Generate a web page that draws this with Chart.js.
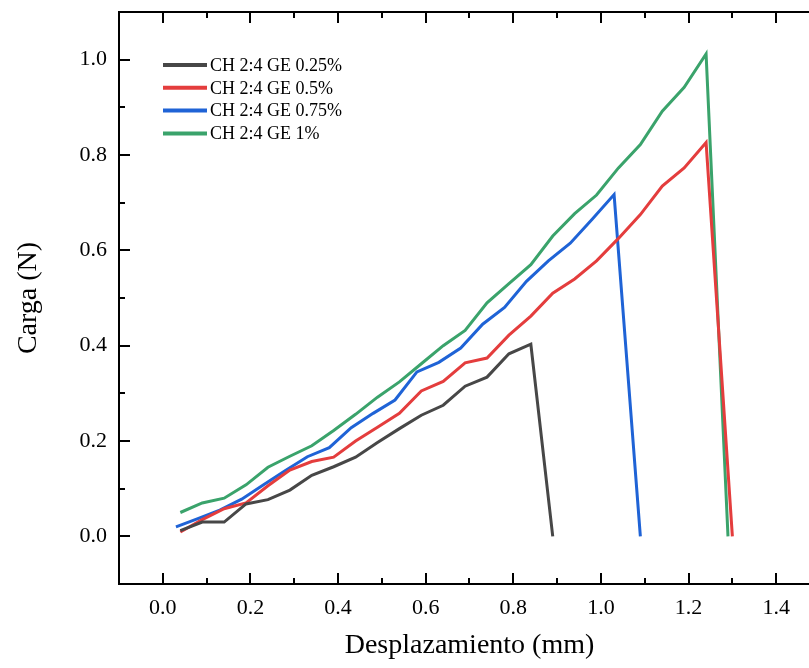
<!DOCTYPE html>
<html>
<head>
<meta charset="utf-8">
<script src="https://cdn.jsdelivr.net/npm/chart.js@4.4.1/dist/chart.umd.min.js"></script>
<style>
  html, body { margin: 0; padding: 0; background: #ffffff; overflow: hidden; }
  #wrap { position: absolute; left: 0; top: 0; width: 835px; height: 668px; }
</style>
</head>
<body>
<div id="wrap"><canvas id="c" width="835" height="668"></canvas></div>
<script>
// ---- data ----
const seriesNames = ["CH 2:4 GE 0.25%", "CH 2:4 GE 0.5%", "CH 2:4 GE 0.75%", "CH 2:4 GE 1%"];

const x025 = [0.04, 0.09, 0.14, 0.19, 0.24, 0.29, 0.34, 0.39, 0.44, 0.49, 0.54, 0.59, 0.64, 0.69, 0.74, 0.79, 0.84, 0.89];
const y025 = [0.012, 0.030, 0.030, 0.068, 0.077, 0.097, 0.128, 0.146, 0.166, 0.197, 0.226, 0.254, 0.275, 0.315, 0.334, 0.383, 0.403, 0.0];

const x05 = [0.04, 0.09, 0.14, 0.19, 0.24, 0.29, 0.34, 0.39, 0.44, 0.49, 0.54, 0.59, 0.64, 0.69, 0.74, 0.79, 0.84, 0.89, 0.94, 0.99, 1.04, 1.09, 1.14, 1.19, 1.24, 1.30];
const y05 = [0.009, 0.035, 0.058, 0.070, 0.106, 0.139, 0.157, 0.166, 0.200, 0.229, 0.258, 0.305, 0.325, 0.364, 0.374, 0.422, 0.462, 0.510, 0.540, 0.578, 0.625, 0.675, 0.735, 0.773, 0.826, 0.0];

const x075 = [0.03, 0.08, 0.13, 0.18, 0.23, 0.28, 0.33, 0.38, 0.43, 0.48, 0.53, 0.58, 0.63, 0.68, 0.73, 0.78, 0.83, 0.88, 0.93, 0.98, 1.03, 1.09];
const y075 = [0.020, 0.037, 0.055, 0.078, 0.108, 0.138, 0.167, 0.186, 0.228, 0.258, 0.286, 0.345, 0.365, 0.395, 0.445, 0.480, 0.535, 0.578, 0.615, 0.665, 0.717, 0.0];

const x1 = [0.04, 0.09, 0.14, 0.19, 0.24, 0.29, 0.34, 0.39, 0.44, 0.49, 0.54, 0.59, 0.64, 0.69, 0.74, 0.79, 0.84, 0.89, 0.94, 0.99, 1.04, 1.09, 1.14, 1.19, 1.24, 1.29];
const y1 = [0.050, 0.070, 0.080, 0.108, 0.145, 0.168, 0.190, 0.222, 0.256, 0.292, 0.324, 0.362, 0.400, 0.432, 0.490, 0.530, 0.570, 0.630, 0.677, 0.716, 0.773, 0.822, 0.892, 0.942, 1.012, 0.0];

const xTicks = [0.0, 0.2, 0.4, 0.6, 0.8, 1.0, 1.2, 1.4];
const yTicks = [0.0, 0.2, 0.4, 0.6, 0.8, 1.0];
const xMinorTicks = [-0.1, 0.1, 0.3, 0.5, 0.7, 0.9, 1.1, 1.3];
const yMinorTicks = [0.1, 0.3, 0.5, 0.7, 0.9];
const xTitle = "Desplazamiento (mm)";
const yTitle = "Carga (N)";

// ---- styling ----
const colors = ["#474747", "#e43d3d", "#1f63d6", "#3aa36b"];
const FONT = "'Liberation Serif', 'Times New Roman', serif";

function pts(xs, ys) { return xs.map((v, i) => ({ x: v, y: ys[i] })); }
const seriesData = [pts(x025, y025), pts(x05, y05), pts(x075, y075), pts(x1, y1)];

const framePlugin = {
  id: 'frame',
  afterDatasetsDraw(chart) {
    const ctx = chart.ctx;
    const a = chart.chartArea;
    const xs = chart.scales.x, ys = chart.scales.y;
    ctx.save();
    ctx.strokeStyle = '#000';
    ctx.lineWidth = 2;
    ctx.strokeRect(a.left, a.top, a.right - a.left, a.bottom - a.top);
    const MAJ = 11, MIN = 6;
    ctx.beginPath();
    xTicks.forEach(v => {
      const p = Math.round(xs.getPixelForValue(v));
      ctx.moveTo(p, a.bottom); ctx.lineTo(p, a.bottom - MAJ);
      ctx.moveTo(p, a.top); ctx.lineTo(p, a.top + MAJ);
    });
    xMinorTicks.forEach(v => {
      const p = Math.round(xs.getPixelForValue(v));
      if (p <= a.left + 1) return;
      ctx.moveTo(p, a.bottom); ctx.lineTo(p, a.bottom - MIN);
      ctx.moveTo(p, a.top); ctx.lineTo(p, a.top + MIN);
    });
    yTicks.forEach(v => {
      const p = Math.round(ys.getPixelForValue(v));
      ctx.moveTo(a.left, p); ctx.lineTo(a.left + MAJ, p);
      ctx.moveTo(a.right, p); ctx.lineTo(a.right - MAJ, p);
    });
    yMinorTicks.forEach(v => {
      const p = Math.round(ys.getPixelForValue(v));
      ctx.moveTo(a.left, p); ctx.lineTo(a.left + MIN, p);
      ctx.moveTo(a.right, p); ctx.lineTo(a.right - MIN, p);
    });
    ctx.stroke();

    // legend inside the plot
    const lx0 = 163, lx1 = 207, ly0 = 65, dy = 22.8;
    ctx.font = "18px " + FONT;
    ctx.textBaseline = 'middle';
    ctx.textAlign = 'left';
    chart.data.datasets.forEach((ds, i) => {
      const y = ly0 + i * dy;
      ctx.strokeStyle = ds.borderColor;
      ctx.lineWidth = 4;
      ctx.beginPath();
      ctx.moveTo(lx0, y); ctx.lineTo(lx1, y);
      ctx.stroke();
      ctx.fillStyle = '#000';
      ctx.fillText(ds.label, lx1 + 3, y + 1);
    });
    ctx.restore();
  }
};

new Chart(document.getElementById('c'), {
  type: 'line',
  data: {
    datasets: seriesNames.map((n, i) => ({
      label: n,
      data: seriesData[i],
      borderColor: colors[i],
      backgroundColor: colors[i],
      borderWidth: 3,
      pointRadius: 0,
      tension: 0,
      fill: false
    }))
  },
  options: {
    responsive: false,
    animation: false,
    devicePixelRatio: 1,
    layout: { padding: { left: 0, top: 12, right: 15, bottom: 0 } },
    plugins: { legend: { display: false }, tooltip: { enabled: false } },
    scales: {
      x: {
        type: 'linear', min: -0.1, max: 1.5,
        afterBuildTicks: s => { s.ticks = xTicks.map(v => ({ value: v })); },
        afterFit: s => { s.height = 84; s.paddingLeft = 0; s.paddingRight = 0; },
        grid: { display: false, drawTicks: false },
        border: { display: false },
        ticks: {
          padding: 11,
          color: '#000',
          font: { family: FONT, size: 22 },
          maxRotation: 0,
          callback: v => Number(v).toFixed(1)
        },
        title: {
          display: true, text: xTitle, color: '#000',
          font: { family: FONT, size: 28 },
          padding: { top: 0, bottom: 6 }
        }
      },
      y: {
        type: 'linear', min: -0.1, max: 1.1,
        afterBuildTicks: s => { s.ticks = yTicks.map(v => ({ value: v })); },
        afterFit: s => { s.width = 119; s.paddingTop = 0; s.paddingBottom = 0; },
        grid: { display: false, drawTicks: false },
        border: { display: false },
        ticks: {
          padding: 12,
          color: '#000',
          font: { family: FONT, size: 22 },
          callback: v => Number(v).toFixed(1)
        },
        title: {
          display: true, text: yTitle, color: '#000',
          font: { family: FONT, size: 28 },
          padding: { top: 12, bottom: 0 }
        }
      }
    }
  },
  plugins: [framePlugin]
});
</script>
</body>
</html>
